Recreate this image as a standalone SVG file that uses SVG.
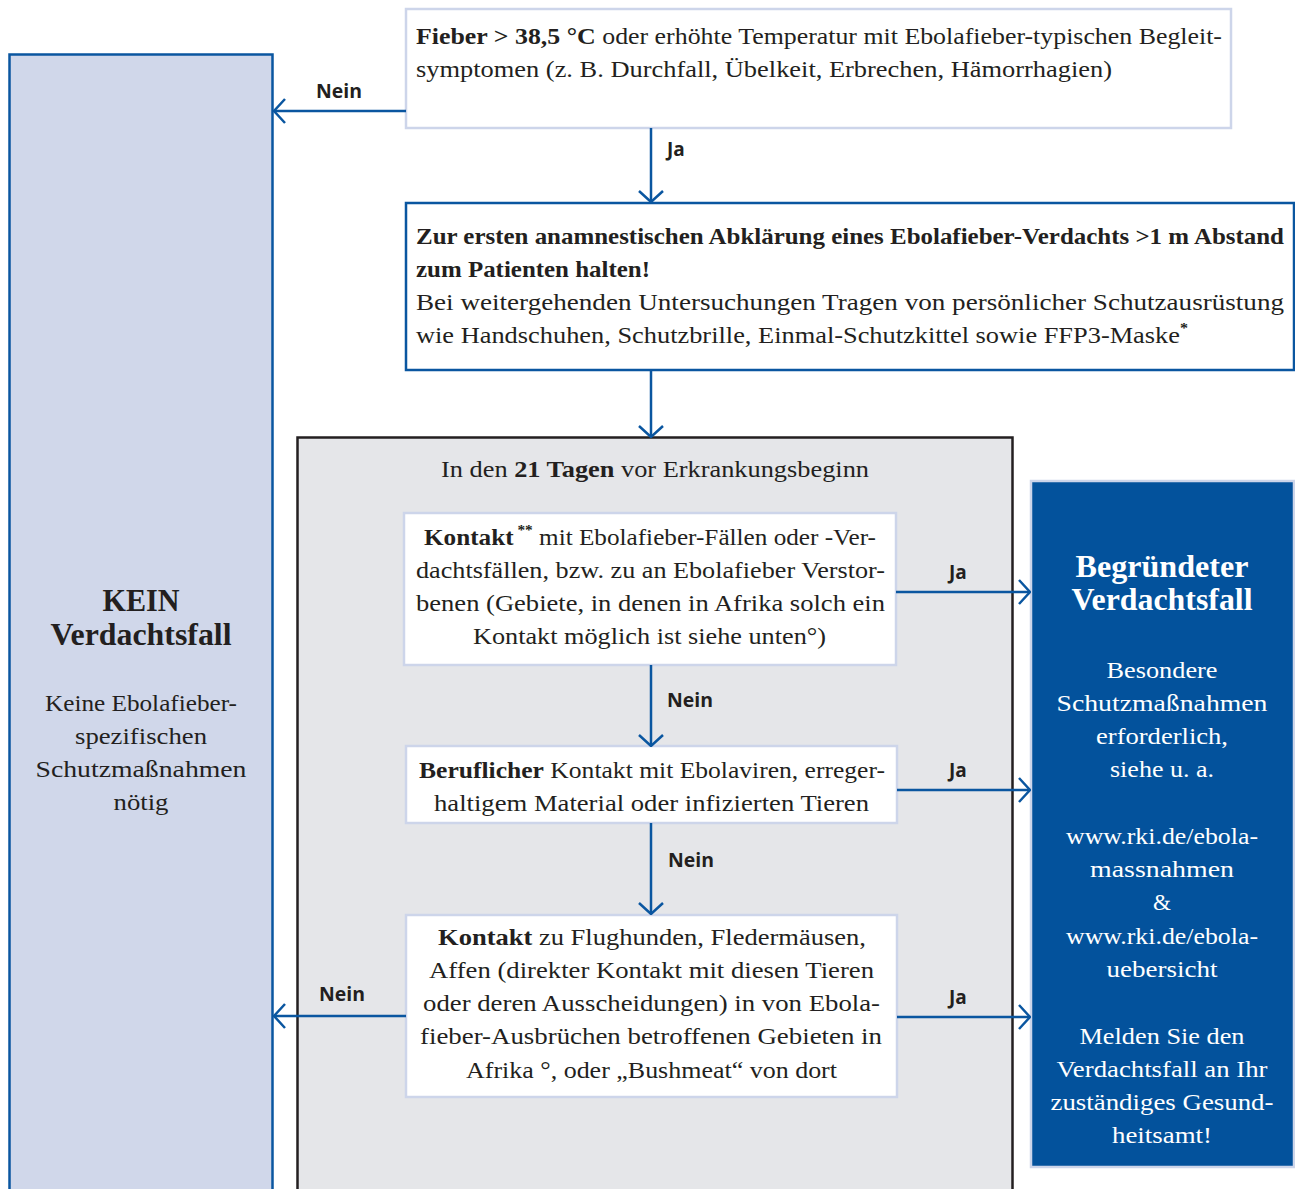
<svg xmlns="http://www.w3.org/2000/svg" width="1295" height="1189" viewBox="0 0 1295 1189">
<defs>
<style>
.t{font-family:"Liberation Serif","DejaVu Serif",serif;font-size:23px;fill:#231f20}
.b{font-weight:bold}
.c{text-anchor:middle}
.w{fill:#ffffff}
.h{font-family:"Liberation Serif","DejaVu Serif",serif;font-size:31px;font-weight:bold;text-anchor:middle}
.lbl{font-family:"Open Sans","Liberation Sans",sans-serif;font-size:19px;font-weight:bold;fill:#231f20}
.con{stroke:#0a56a0;stroke-width:2.5;fill:none}
.lite{fill:#ffffff;stroke:#cdd5ea;stroke-width:2.5}
.sup{font-size:14px}
</style>
<marker id="ah" viewBox="0 0 13 26" refX="12" refY="13" markerWidth="13" markerHeight="26" markerUnits="userSpaceOnUse" orient="auto">
<path d="M1,1 L12,13 L1,25" fill="none" stroke="#0a56a0" stroke-width="2.5"/>
</marker>
</defs>
<rect width="1295" height="1189" fill="#ffffff"/>

<g id="kein">
<rect x="9.5" y="54.5" width="263" height="1150" fill="#d0d7ea" stroke="#0a56a0" stroke-width="2.5"/>
<text class="h" x="141" y="611" fill="#231f20" textLength="77" lengthAdjust="spacingAndGlyphs">KEIN</text>
<text class="h" x="141" y="645" fill="#231f20" textLength="181" lengthAdjust="spacingAndGlyphs">Verdachtsfall</text>
<text class="t c" x="141" y="711" textLength="192" lengthAdjust="spacingAndGlyphs">Keine Ebolafieber-</text>
<text class="t c" x="141" y="744" textLength="132" lengthAdjust="spacingAndGlyphs">spezifischen</text>
<text class="t c" x="141" y="777" textLength="211" lengthAdjust="spacingAndGlyphs">Schutzmaßnahmen</text>
<text class="t c" x="141" y="810" textLength="55" lengthAdjust="spacingAndGlyphs">nötig</text>
</g>

<g id="fieber">
<rect x="406" y="9" width="825" height="119" class="lite"/>
<text class="t" x="416" y="44" textLength="806" lengthAdjust="spacingAndGlyphs"><tspan class="b">Fieber &gt; 38,5 °C</tspan> oder erhöhte Temperatur mit Ebolafieber-typischen Begleit-</text>
<text class="t" x="416" y="77" textLength="696" lengthAdjust="spacingAndGlyphs">symptomen (z. B. Durchfall, Übelkeit, Erbrechen, Hämorrhagien)</text>
</g>

<g id="abstand">
<rect x="406" y="203" width="888" height="167" fill="#ffffff" stroke="#0a56a0" stroke-width="2.5"/>
<text class="t b" x="416" y="244" textLength="868" lengthAdjust="spacingAndGlyphs">Zur ersten anamnestischen Abklärung eines Ebolafieber-Verdachts &gt;1 m Abstand</text>
<text class="t b" x="416" y="277" textLength="234" lengthAdjust="spacingAndGlyphs">zum Patienten halten!</text>
<text class="t" x="416" y="310" textLength="868" lengthAdjust="spacingAndGlyphs">Bei weitergehenden Untersuchungen Tragen von persönlicher Schutzausrüstung</text>
<text class="t" x="416" y="343" textLength="772" lengthAdjust="spacingAndGlyphs">wie Handschuhen, Schutzbrille, Einmal-Schutzkittel sowie FFP3-Maske<tspan class="sup b" dy="-10">*</tspan></text>
</g>

<g id="tage">
<rect x="297.5" y="437.5" width="715" height="770" fill="#e5e6e9" stroke="#231f20" stroke-width="2.5"/>
<text class="t c" x="655" y="477" textLength="428" lengthAdjust="spacingAndGlyphs">In den <tspan class="b">21 Tagen</tspan> vor Erkrankungsbeginn</text>
</g>

<g id="kontakt1">
<rect x="404" y="513" width="492" height="152" class="lite"/>
<text class="t" x="424" y="545" textLength="452" lengthAdjust="spacingAndGlyphs"><tspan class="b">Kontakt</tspan><tspan class="sup b" dy="-10"> **</tspan><tspan dy="10"> mit Ebolafieber-Fällen oder -Ver-</tspan></text>
<text class="t" x="416" y="578" textLength="469" lengthAdjust="spacingAndGlyphs">dachtsfällen, bzw. zu an Ebolafieber Verstor-</text>
<text class="t" x="416" y="611" textLength="469" lengthAdjust="spacingAndGlyphs">benen (Gebiete, in denen in Afrika solch ein</text>
<text class="t" x="473" y="644" textLength="353" lengthAdjust="spacingAndGlyphs">Kontakt möglich ist siehe unten°)</text>
</g>

<g id="beruflich">
<rect x="406" y="746" width="491" height="77" class="lite"/>
<text class="t" x="419" y="778" textLength="466" lengthAdjust="spacingAndGlyphs"><tspan class="b">Beruflicher</tspan> Kontakt mit Ebolaviren, erreger-</text>
<text class="t" x="434" y="811" textLength="435" lengthAdjust="spacingAndGlyphs">haltigem Material oder infizierten Tieren</text>
</g>

<g id="kontakt2">
<rect x="406" y="915" width="491" height="182" class="lite"/>
<text class="t" x="438" y="945" textLength="428" lengthAdjust="spacingAndGlyphs"><tspan class="b">Kontakt</tspan> zu Flughunden, Fledermäusen,</text>
<text class="t" x="429" y="978" textLength="445" lengthAdjust="spacingAndGlyphs">Affen (direkter Kontakt mit diesen Tieren</text>
<text class="t" x="423" y="1011" textLength="457" lengthAdjust="spacingAndGlyphs">oder deren Ausscheidungen) in von Ebola-</text>
<text class="t" x="420" y="1044" textLength="462" lengthAdjust="spacingAndGlyphs">fieber-Ausbrüchen betroffenen Gebieten in</text>
<text class="t" x="466" y="1078" textLength="371" lengthAdjust="spacingAndGlyphs">Afrika °, oder „Bushmeat“ von dort</text>
</g>

<g id="begruendet">
<rect x="1031" y="481" width="263" height="686" fill="#03529c" stroke="#cdd5ea" stroke-width="2.5"/>
<text class="h w" x="1162" y="577" textLength="173" lengthAdjust="spacingAndGlyphs">Begründeter</text>
<text class="h w" x="1162" y="610" textLength="181" lengthAdjust="spacingAndGlyphs">Verdachtsfall</text>
<text class="t c w" x="1162" y="678" textLength="111" lengthAdjust="spacingAndGlyphs">Besondere</text>
<text class="t c w" x="1162" y="711" textLength="211" lengthAdjust="spacingAndGlyphs">Schutzmaßnahmen</text>
<text class="t c w" x="1162" y="744" textLength="132" lengthAdjust="spacingAndGlyphs">erforderlich,</text>
<text class="t c w" x="1162" y="777" textLength="104" lengthAdjust="spacingAndGlyphs">siehe u. a.</text>
<text class="t c w" x="1162" y="844" textLength="192" lengthAdjust="spacingAndGlyphs">www.rki.de/ebola-</text>
<text class="t c w" x="1162" y="877" textLength="144" lengthAdjust="spacingAndGlyphs">massnahmen</text>
<text class="t c w" x="1162" y="910">&amp;</text>
<text class="t c w" x="1162" y="944" textLength="192" lengthAdjust="spacingAndGlyphs">www.rki.de/ebola-</text>
<text class="t c w" x="1162" y="977" textLength="111" lengthAdjust="spacingAndGlyphs">uebersicht</text>
<text class="t c w" x="1162" y="1044" textLength="165" lengthAdjust="spacingAndGlyphs">Melden Sie den</text>
<text class="t c w" x="1162" y="1077" textLength="211" lengthAdjust="spacingAndGlyphs">Verdachtsfall an Ihr</text>
<text class="t c w" x="1162" y="1110" textLength="223" lengthAdjust="spacingAndGlyphs">zuständiges Gesund-</text>
<text class="t c w" x="1162" y="1143" textLength="100" lengthAdjust="spacingAndGlyphs">heitsamt!</text>
</g>

<g id="connectors">
<line class="con" x1="406" y1="111" x2="274" y2="111" marker-end="url(#ah)"/>
<line class="con" x1="651" y1="128" x2="651" y2="202" marker-end="url(#ah)"/>
<line class="con" x1="651" y1="370" x2="651" y2="437" marker-end="url(#ah)"/>
<line class="con" x1="651" y1="665" x2="651" y2="746" marker-end="url(#ah)"/>
<line class="con" x1="651" y1="823" x2="651" y2="914" marker-end="url(#ah)"/>
<line class="con" x1="896" y1="592" x2="1030" y2="592" marker-end="url(#ah)"/>
<line class="con" x1="897" y1="790" x2="1030" y2="790" marker-end="url(#ah)"/>
<line class="con" x1="897" y1="1017" x2="1030" y2="1017" marker-end="url(#ah)"/>
<line class="con" x1="406" y1="1016" x2="274" y2="1016" marker-end="url(#ah)"/>
<text class="lbl" x="316" y="98" textLength="46" lengthAdjust="spacingAndGlyphs">Nein</text>
<text class="lbl" x="667" y="156">Ja</text>
<text class="lbl" x="667" y="707" textLength="46" lengthAdjust="spacingAndGlyphs">Nein</text>
<text class="lbl" x="668" y="867" textLength="46" lengthAdjust="spacingAndGlyphs">Nein</text>
<text class="lbl" x="949" y="579">Ja</text>
<text class="lbl" x="949" y="777">Ja</text>
<text class="lbl" x="949" y="1004">Ja</text>
<text class="lbl" x="319" y="1001" textLength="46" lengthAdjust="spacingAndGlyphs">Nein</text>
</g>
</svg>
